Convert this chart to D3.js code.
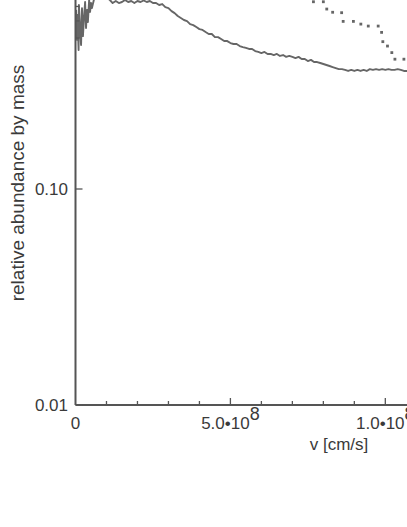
<!DOCTYPE html>
<html>
<head>
<meta charset="utf-8">
<script src="https://cdn.jsdelivr.net/npm/d3@7"></script>
<style>
  body { margin:0; background:#fff; }
  svg { display:block; }
  text { font-family: "Liberation Sans", Arial, Helvetica, sans-serif; fill:#3a3a3a; }
</style>
</head>
<body>
<div class="canvas"></div>
<script>
// velocity in units of 1e8 cm/s
const solidV = [0.02,0.05,0.065,0.10,0.11,0.15,0.18,0.21,0.24,0.27,0.31,0.34,0.37,0.40,0.44,0.47,0.50,0.53,0.60,0.79,0.98,1.11,
  1.2,1.3,1.4,1.5,1.6,1.7,1.8,1.9,2.0,2.1,2.2,2.3,2.4,2.5,2.6,2.7,2.8,2.9,3.0,3.1,3.2,3.3,3.4,3.5,3.6,3.7,3.8,3.9,
  4.0,4.1,4.2,4.3,4.4,4.5,4.6,4.7,4.8,4.9,5.0,5.1,5.2,5.3,5.4,5.5,5.6,5.7,5.8,5.9,
  6.0,6.1,6.2,6.3,6.4,6.5,6.6,6.7,6.8,6.9,7.0,7.1,7.2,7.3,7.4,7.5,7.6,7.7,7.8,7.9,
  8.0,8.1,8.2,8.3,8.4,8.5,8.6,8.7,8.8,8.9,9.0,9.1,9.2,9.3,9.4,9.5,9.6,9.7,9.8,9.9,
  10.0,10.1,10.2,10.3,10.4,10.5,10.6,10.7];
const solidVal = [0.675,0.490,0.639,0.440,0.711,0.545,0.464,0.688,0.510,0.606,0.734,0.556,0.675,0.593,0.750,0.660,0.726,0.688,0.758,0.782,0.774,0.750,
  0.726,0.742,0.726,0.734,0.750,0.734,0.742,0.726,0.742,0.734,0.746,0.734,0.742,0.726,0.726,0.711,0.718,0.695,0.688,0.666,0.652,0.632,0.619,0.606,0.599,0.580,0.574,0.562,
  0.550,0.545,0.533,0.522,0.522,0.505,0.505,0.495,0.484,0.484,0.474,0.469,0.469,0.459,0.454,0.450,0.445,0.445,0.435,0.431,
  0.426,0.431,0.422,0.422,0.417,0.422,0.413,0.417,0.409,0.413,0.409,0.404,0.409,0.400,0.400,0.391,0.396,0.387,0.387,0.383,
  0.379,0.375,0.371,0.367,0.363,0.359,0.359,0.356,0.352,0.356,0.352,0.356,0.352,0.356,0.352,0.359,0.356,0.359,0.356,0.359,
  0.356,0.359,0.356,0.356,0.359,0.356,0.352,0.352];

const dotV = [7.68,8.00,8.11,8.30,8.59,8.64,8.97,9.21,9.45,9.77,9.88,9.92,10.07,10.21,10.31,10.60];
const dotVal = [0.736,0.736,0.681,0.658,0.655,0.597,0.597,0.580,0.568,0.568,0.531,0.481,0.459,0.428,0.399,0.399];

const xMinor = [1,2,3,4,6,7,8,9];
const xMajor = [0,5,10];
const xLabels = ['0','5.0\u202210','1.0\u202210'];
const xExp = ['','8','8'];
const yMajor = [0.01,0.1];
const yLabels = ['0.01','0.10'];
const yMinor = [0.5,0.6,0.7,0.8,0.9];

const dims = { width:407, height:527 };
const plot = { left:75.5, right:407, top:-27, bottom:405 };

const svg = d3.select('.canvas').append('svg')
  .attr('width', dims.width)
  .attr('height', dims.height);

const x = d3.scaleLinear().domain([0, 10.7]).range([plot.left, plot.right]);
const y = d3.scaleLog().domain([0.01, 1]).range([plot.bottom, plot.top]);

const axisCol = '#555';
const lineCol = '#666';

// data
const solid = solidV.map((v,i) => ({v:v, a:solidVal[i]}));
const dots = dotV.map((v,i) => ({v:v, a:dotVal[i]}));

svg.append('path')
  .datum(solid)
  .attr('fill','none')
  .attr('stroke', lineCol)
  .attr('stroke-width', 1.9)
  .attr('stroke-linejoin','round')
  .attr('d', d3.line().x(d => x(d.v)).y(d => y(d.a)));

svg.selectAll('rect.dot')
  .data(dots)
  .enter().append('rect')
  .attr('class','dot')
  .attr('x', d => x(d.v) - 1.4)
  .attr('y', d => y(d.a) - 1.4)
  .attr('width', 2.8)
  .attr('height', 2.8)
  .attr('fill', lineCol);

// axes lines
svg.append('line')
  .attr('x1', x(0)).attr('x2', x(0))
  .attr('y1', plot.top).attr('y2', y(0.01))
  .attr('stroke', axisCol).attr('stroke-width', 2);
svg.append('line')
  .attr('x1', x(0)).attr('x2', plot.right)
  .attr('y1', y(0.01)).attr('y2', y(0.01))
  .attr('stroke', axisCol).attr('stroke-width', 2);

// x ticks (pointing inward)
svg.selectAll('line.xmin').data(xMinor).enter().append('line')
  .attr('x1', d => x(d)).attr('x2', d => x(d))
  .attr('y1', y(0.01)).attr('y2', y(0.01) - 4)
  .attr('stroke', axisCol).attr('stroke-width', 1.3);
svg.selectAll('line.xmaj').data(xMajor.slice(1)).enter().append('line')
  .attr('x1', d => x(d)).attr('x2', d => x(d))
  .attr('y1', y(0.01)).attr('y2', y(0.01) - 7)
  .attr('stroke', axisCol).attr('stroke-width', 1.3);

const xl = svg.selectAll('text.xl').data(xMajor).enter().append('text')
  .attr('x', d => x(d))
  .attr('y', 429)
  .attr('text-anchor','middle')
  .style('font-size','17px');
xl.append('tspan').text((d,i) => xLabels[i]);
xl.append('tspan').attr('dy', -9).style('font-size','18px').text((d,i) => xExp[i]);

svg.append('text')
  .attr('x', 339).attr('y', 450)
  .attr('text-anchor','middle')
  .style('font-size','17px')
  .text('v [cm/s]');

// y ticks
svg.selectAll('line.ymaj').data(yMajor).enter().append('line')
  .attr('x1', x(0)).attr('x2', x(0) + 7)
  .attr('y1', d => y(d)).attr('y2', d => y(d))
  .attr('stroke', axisCol).attr('stroke-width', 1.3);
svg.selectAll('line.ymin').data(yMinor).enter().append('line')
  .attr('x1', x(0)).attr('x2', x(0) + 4)
  .attr('y1', d => y(d)).attr('y2', d => y(d))
  .attr('stroke', axisCol).attr('stroke-width', 1.3);

svg.selectAll('text.yl').data(yMajor).enter().append('text')
  .attr('x', 68)
  .attr('y', d => y(d))
  .attr('dy', '0.35em')
  .attr('text-anchor','end')
  .style('font-size','17px')
  .text((d,i) => yLabels[i]);

svg.append('text')
  .attr('transform', 'translate(24,183) rotate(-90)')
  .attr('text-anchor','middle')
  .style('font-size','19px')
  .text('relative abundance by mass');
</script>
</body>
</html>
